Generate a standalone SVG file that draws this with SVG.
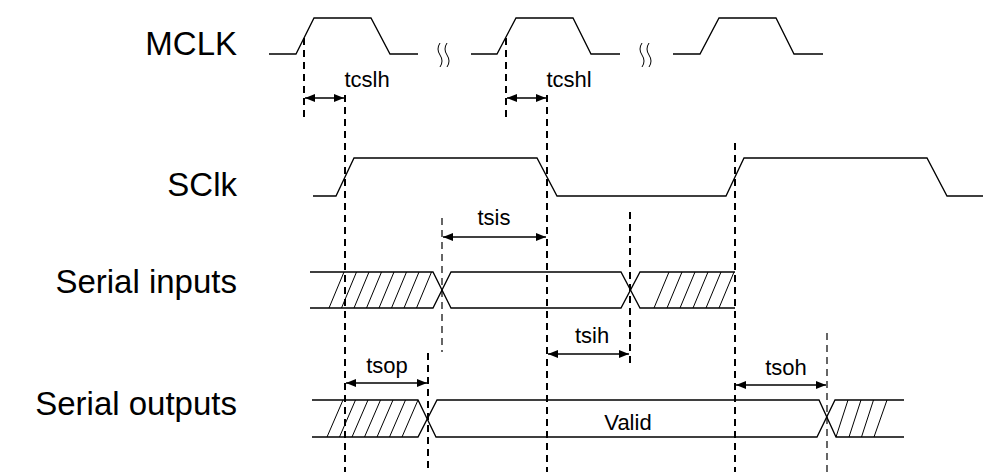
<svg xmlns="http://www.w3.org/2000/svg" width="983" height="472" viewBox="0 0 983 472">
<style>
.w{fill:none;stroke:#000;stroke-width:1.3}
.h{fill:none;stroke:#000;stroke-width:1}
.dk{fill:none;stroke:#000;stroke-width:2;stroke-dasharray:7 5}
.dt{fill:none;stroke:#000;stroke-width:1.2;stroke-dasharray:7 5}
.ar{fill:none;stroke:#000;stroke-width:1.5;marker-start:url(#ah);marker-end:url(#ah)}
.lab{font-family:"Liberation Sans",Arial,sans-serif;font-size:33px;fill:#000;text-anchor:end}
.t{font-family:"Liberation Sans",Arial,sans-serif;font-size:22px;fill:#000;text-anchor:middle}
</style>
<defs>
<marker id="ah" viewBox="0 0 10 8" refX="10" refY="4" markerWidth="10" markerHeight="8" markerUnits="userSpaceOnUse" orient="auto-start-reverse">
<path d="M0,0 L10,4 L0,8 z" fill="#000"/>
</marker>
</defs>
<g id="labels">
<text class="lab" x="237" y="55">MCLK</text>
<text class="lab" x="237" y="196">SClk</text>
<text class="lab" x="237" y="293">Serial inputs</text>
<text class="lab" x="237" y="415">Serial outputs</text>
</g>
<g id="mclk">
<path class="w" d="M269,54 H296 L314,18 H371 L390,54 H418"/>
<path class="w" d="M471,54 H497 L516,18 H573 L591,54 H620"/>
<path class="w" d="M673,54 H700 L719,18 H776 L794,54 H823"/>
<path class="h" d="M440,43 q-4,6 0,12 q4,6 0,12 M447,43 q-4,6 0,12 q4,6 0,12"/>
<path class="h" d="M642,43 q-4,6 0,12 q4,6 0,12 M649,43 q-4,6 0,12 q4,6 0,12"/>
</g>
<g id="sclk">
<path class="w" d="M313,196 H336 L354,158 H537 L557,196 H726 L744,158 H927 L947,196 H983"/>
</g>
<g id="serial-inputs">
<path class="w" d="M310,272 H433 L451,308 H621 L640,272 H735"/>
<path class="w" d="M310,308 H433 L451,272 H621 L640,308 H735"/>
<path class="h" d="M329,308 L344,272 M341.5,308 L356.5,272 M354,308 L369,272 M366.5,308 L381.5,272 M379,308 L394,272 M391.5,308 L406.5,272 M404,308 L419,272 M416.5,308 L431.5,272"/>
<path class="h" d="M654,308 L669,272 M667,308 L682,272 M680,308 L695,272 M693,308 L708,272 M706,308 L721,272 M719,308 L734,272"/>
</g>
<g id="serial-outputs">
<path class="w" d="M312,400 H418 L436,437 H817 L835,400 H904"/>
<path class="w" d="M312,437 H418 L437,400 H819 L836,437 H904"/>
<path class="h" d="M327,437 L343,400 M339.5,437 L355.5,400 M352,437 L368,400 M364.5,437 L380.5,400 M377,437 L393,400 M389.5,437 L405.5,400 M402,437 L418,400"/>
<path class="h" d="M836,437 L848,400 M849,437 L861,400 M861.5,437 L873.5,400 M874,437 L887,400"/>
<text class="t" x="628" y="430">Valid</text>
</g>
<g id="connectors">
<line class="dk" x1="304" y1="38" x2="304" y2="118"/>
<line class="dk" x1="345" y1="95" x2="345" y2="472"/>
<line class="dk" x1="506" y1="38" x2="506" y2="118"/>
<line class="dk" x1="547" y1="95" x2="547" y2="472"/>
<line class="dk" x1="735" y1="143" x2="735" y2="472"/>
<line class="dt" x1="442" y1="218" x2="442" y2="352"/>
<line class="dk" x1="630" y1="212" x2="630" y2="363"/>
<line class="dk" x1="428" y1="353" x2="428" y2="472"/>
<line class="dt" x1="827" y1="333" x2="827" y2="472"/>
<line class="ar" x1="305" y1="98" x2="344" y2="98"/>
<line class="ar" x1="507" y1="98" x2="546" y2="98"/>
<line class="ar" x1="443" y1="237" x2="546" y2="237"/>
<line class="ar" x1="548" y1="354" x2="629" y2="354"/>
<line class="ar" x1="346" y1="383" x2="427" y2="383"/>
<line class="ar" x1="736" y1="385" x2="826" y2="385"/>
<text class="t" x="367" y="87">tcslh</text>
<text class="t" x="569" y="87">tcshl</text>
<text class="t" x="494" y="225">tsis</text>
<text class="t" x="592" y="343">tsih</text>
<text class="t" x="387" y="373">tsop</text>
<text class="t" x="786" y="375">tsoh</text>
</g>
</svg>
